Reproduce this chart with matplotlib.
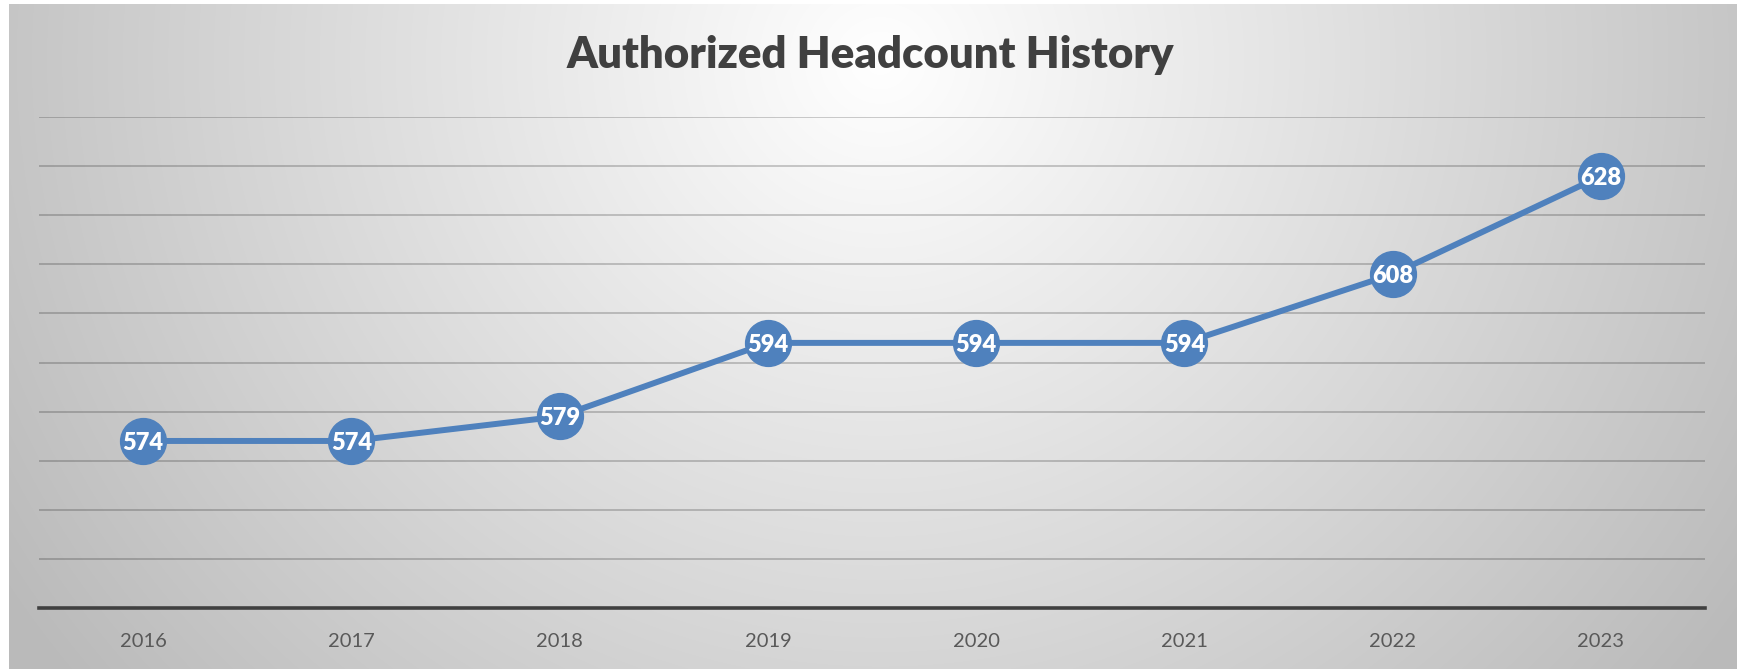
import numpy as np
import matplotlib
matplotlib.use("Agg")
import matplotlib.pyplot as plt

# ---- data ----
years = ["2016", "2017", "2018", "2019", "2020", "2021", "2022", "2023"]
headcount = [574, 574, 579, 594, 594, 594, 608, 628]
title = "Authorized Headcount History"

W, H, DPI = 1741, 669, 100
fig = plt.figure(figsize=(W / DPI, H / DPI), dpi=DPI)
fig.patch.set_facecolor("white")

# radial gradient background
bx0, by0, bx1, by1 = 9, 4, 1737, 669  # pixel box (top-left origin)
bg = fig.add_axes([bx0 / W, 0, (bx1 - bx0) / W, (by1 - by0) / H], zorder=-5)
xs = np.arange(bx0, bx1)
ys = np.arange(by0, by1)
X, Y = np.meshgrid(xs, ys)
r = np.sqrt((X - 880) ** 2 + ((Y - 60) * 1.05) ** 2)
g = np.clip(255 - 0.066 * r, 186, 255) / 255.0
img = np.dstack([g, g, g])
bg.imshow(img, aspect="auto", extent=[0, 1, 0, 1], origin="upper")
bg.set_axis_off()

# main axes
ax_left = 39 / W
ax_right = 1705 / W
ax_bottom = (H - 607.7) / H
ax_top = (H - 117.3) / H
ax = fig.add_axes([ax_left, ax_bottom, ax_right - ax_left, ax_top - ax_bottom])
ax.set_facecolor("none")

x = np.arange(len(years))
ax.plot(x, headcount, color="#4f81bd", lw=4.3, marker="o", markersize=33,
        markerfacecolor="#4f81bd", markeredgecolor="#4f81bd", zorder=3,
        solid_joinstyle="round")
for xi, v in zip(x, headcount):
    ax.text(xi, v, str(v), ha="center", va="center_baseline", color="white",
            fontsize=17, fontweight="heavy", family="Lato", zorder=4)

ax.set_xlim(-0.5, len(years) - 0.5)
ax.set_ylim(540, 640)
ax.set_yticks(np.arange(550, 641, 10))
ax.yaxis.grid(True, color="black", alpha=0.25, lw=1.1)
ax.set_axisbelow(True)
ax.tick_params(axis="y", left=False, labelleft=False)
ax.set_xticks(x)
ax.set_xticklabels(years, fontsize=14.5, color="#595959", family="Lato")
ax.tick_params(axis="x", length=0, pad=18)
for s in ["left", "right", "top"]:
    ax.spines[s].set_visible(False)
ax.spines["bottom"].set_color("#404040")
ax.spines["bottom"].set_linewidth(2.6)
ax.spines["bottom"].set_zorder(2)

fig.text(0.5, (H - 55) / H, title, ha="center", va="center", fontsize=31.5,
         fontweight="heavy", color="#404040", family="Lato")

fig.savefig("out.png", dpi=DPI)
